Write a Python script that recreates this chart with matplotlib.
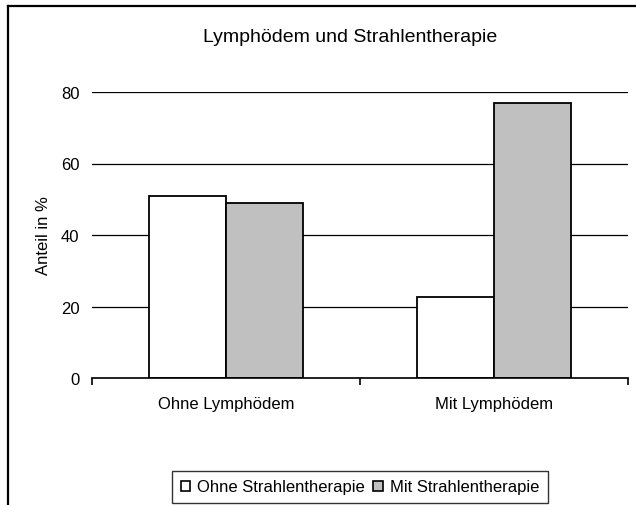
import numpy as np
import matplotlib
matplotlib.use('Agg')
import matplotlib.pyplot as plt
from matplotlib.lines import Line2D
from matplotlib.patches import Patch

plt.rcParams['font.family'] = ['Liberation Sans', 'DejaVu Sans']

title      = 'Lymphödem und Strahlentherapie'
categories = ['Ohne Lymphödem', 'Mit Lymphödem']
series     = ['Ohne Strahlentherapie', 'Mit Strahlentherapie']
ohne_st    = [51.0, 22.6]
mit_st     = [49.0, 77.0]
y_ticks    = [0, 20, 40, 60, 80]

W, H = 636, 506
fig = plt.figure(figsize=(W / 100, H / 100), dpi=100)

# outer chart frame: only the top and left edges are inside the picture
fx, fy = 8 / W, 1 - 7 / H
fig.add_artist(Line2D([fx, 1.0], [fy, fy], transform=fig.transFigure,
                      color='black', linewidth=1.6))
fig.add_artist(Line2D([fx, fx], [0.0, fy], transform=fig.transFigure,
                      color='black', linewidth=1.6))

ax = fig.add_axes([92 / W, (H - 379) / H, 536 / W, 286 / H])

x = np.arange(len(categories))
w = 1 / 3.5
ax.bar(x - w / 2, ohne_st, w, color='white', edgecolor='black', linewidth=1.3, zorder=3)
ax.bar(x + w / 2, mit_st, w, color='#c0c0c0', edgecolor='black', linewidth=1.3, zorder=3)

ax.set_xlim(-0.5, len(categories) - 0.5)
ax.set_ylim(0, 80)

for s in ['top', 'right', 'left']:
    ax.spines[s].set_visible(False)
ax.spines['bottom'].set_linewidth(1.2)
ax.spines['bottom'].set_zorder(4)

ax.set_yticks(y_ticks)
ax.tick_params(axis='y', length=0, pad=9, labelsize=12)
ax.yaxis.grid(True, color='black', linewidth=0.9)
ax.set_axisbelow(True)

ax.set_xticks(x)
ax.set_xticklabels(categories)
ax.set_xticks(np.arange(-0.5, len(categories), 1.0), minor=True)
ax.tick_params(axis='x', which='major', length=0, pad=13, labelsize=12)
ax.tick_params(axis='x', which='minor', length=5, width=1.2, direction='out')

ax.set_ylabel('Anteil in %', fontsize=12, labelpad=7)

fig.text(350 / W, 1 - 37 / H, title, ha='center', va='center', fontsize=14)

handles = [Patch(facecolor='white', edgecolor='black', linewidth=1.2),
           Patch(facecolor='#c0c0c0', edgecolor='black', linewidth=1.2)]
leg = fig.legend(handles, series, loc='center', ncol=2,
                 bbox_to_anchor=(360 / W, 1 - 488 / H),
                 fontsize=12, frameon=True, fancybox=False,
                 handlelength=0.55, handleheight=0.55, handletextpad=0.45,
                 columnspacing=0.5, borderpad=0.5)
leg.get_frame().set_edgecolor('black')
leg.get_frame().set_linewidth(1.0)

fig.savefig('out.png', dpi=100)
